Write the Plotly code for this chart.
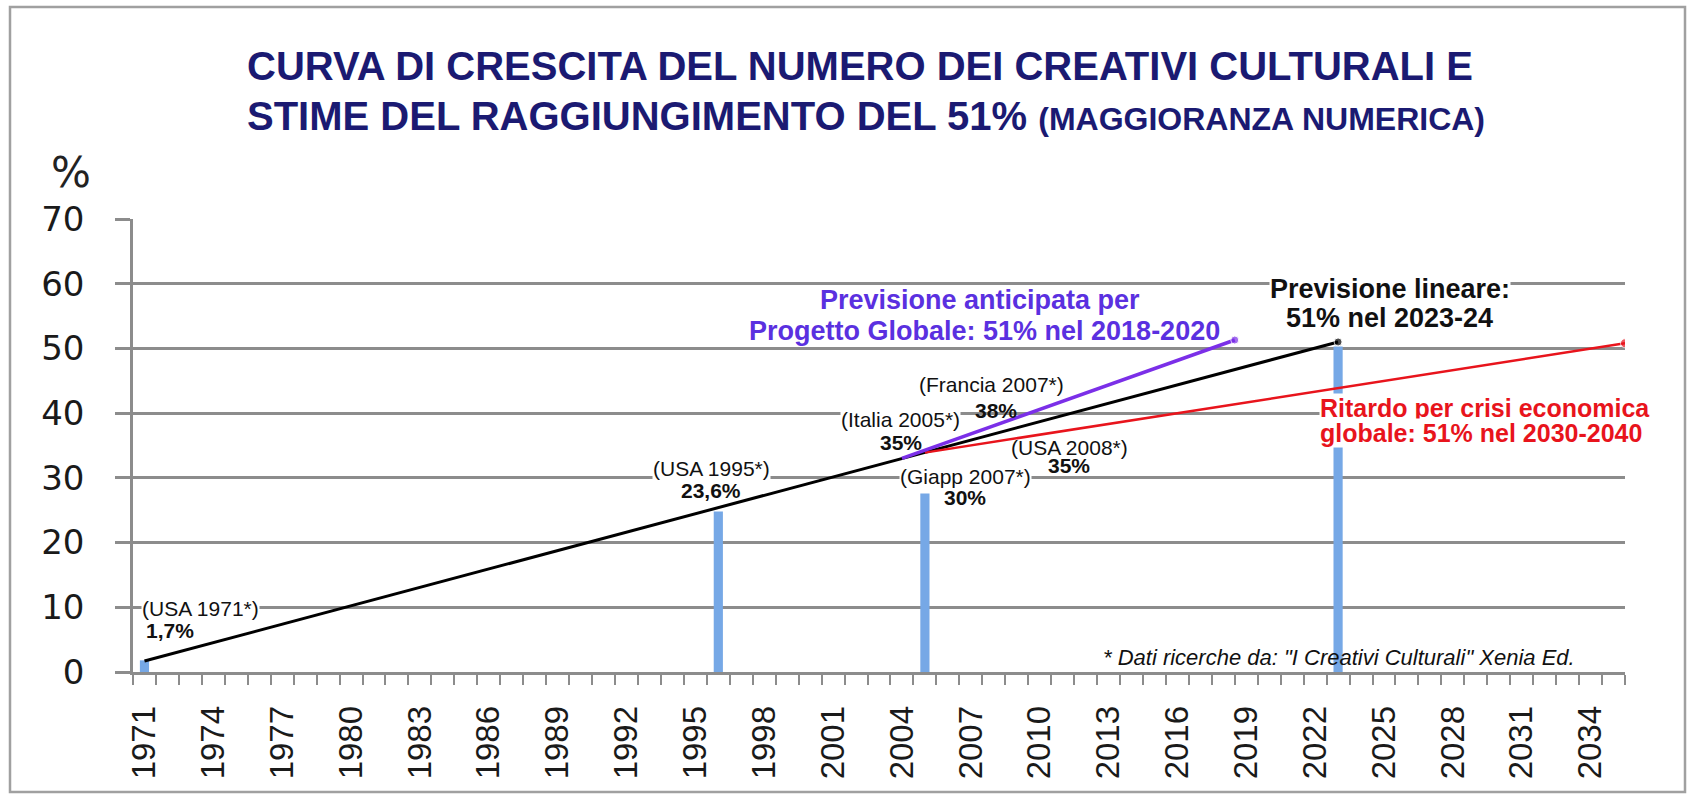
import plotly.graph_objects as go

# ---------------- data ----------------
tick_years = [1971, 1974, 1977, 1980, 1983, 1986, 1989, 1992, 1995, 1998, 2001,
              2004, 2007, 2010, 2013, 2016, 2019, 2022, 2025, 2028, 2031, 2034]
tick_labels = ["1971", "1974", "1977", "1980", "1983", "1986", "1989", "1992",
               "1995", "1998", "2001", "2004", "2007", "2010", "2013", "2016",
               "2019", "2022", "2025", "2028", "2031", "2034"]
all_years = list(range(1971, 2036))          # category slots on the axis

bar_years = [1971, 1996, 2005, 2023]
bar_values = [1.8, 24.8, 27.6, 50.3]

linear_years = [1971, 2023]                  # Previsione lineare
linear_values = [1.7, 51.0]
early_years = [2004, 2018.5]                 # Previsione anticipata (Progetto Globale)
early_values = [33.0, 51.3]
late_years = [2005, 2035.5]                  # Ritardo per crisi economica
late_values = [33.9, 50.8]

y_ticks = [0, 10, 20, 30, 40, 50, 60, 70]

# ---------------- layout geometry ----------------
W, H = 1687, 794
L, R, T, B = 133, 62, 219, 122
GRID = "#8c8c8c"
NAVY = "#1b1a72"
PURPLE_T = "#5a30e0"
PURPLE_L = "#7b2fe8"
RED = "#e8141c"
SANS = "Liberation Sans, Arial, sans-serif"
VERD = "DejaVu Sans, Verdana, sans-serif"


def px_x(px):
    return (px - L) / (W - L - R)


def px_y(py):
    return (H - B - py) / (H - T - B)


fig = go.Figure()

fig.add_trace(go.Bar(x=bar_years, y=bar_values, width=0.4,
                     marker=dict(color="#76a8e6", line=dict(width=0)),
                     hoverinfo="skip", showlegend=False))

fig.add_trace(go.Scatter(x=linear_years, y=linear_values, mode="lines+markers",
                         line=dict(color="#000000", width=3),
                         marker=dict(size=[0, 8], color="#000000"),
                         showlegend=False))
fig.add_trace(go.Scatter(x=late_years, y=late_values, mode="lines+markers",
                         line=dict(color=RED, width=2.5),
                         marker=dict(size=[0, 9], color=RED),
                         showlegend=False))
fig.add_trace(go.Scatter(x=early_years, y=early_values, mode="lines+markers",
                         line=dict(color=PURPLE_L, width=3.5),
                         marker=dict(size=[0, 8], color=PURPLE_L),
                         showlegend=False))

ann = []


def label(text, x, y, size=21, bold=False, color="#111111", xanchor="center",
          bg="white", italic=False, family=SANS):
    t = text
    if bold:
        t = "<b>" + t + "</b>"
    if italic:
        t = "<i>" + t + "</i>"
    ann.append(dict(text=t, x=x, y=y, xref="x", yref="y", showarrow=False,
                    xanchor=xanchor, yanchor="middle",
                    font=dict(family=family, size=size, color=color),
                    bgcolor=bg, borderpad=0))


label("(USA 1971*)", 1970.85, 9.74, xanchor="left")
label("1,7%", 1971.02, 6.34, bold=True, xanchor="left", bg=None)
label("(USA 1995*)", 1995.72, 31.37)
label("23,6%", 1995.68, 28.0, bold=True, bg=None)
label("(Italia 2005*)", 2003.93, 39.0)
label("35%", 2003.98, 35.5, bold=True, bg=None)
label("(Francia 2007*)", 2007.92, 44.35, bg=None)
label("38%", 2008.1, 40.45, bold=True, bg=None)
label("(USA 2008*)", 2011.28, 34.7, bg=None)
label("35%", 2011.28, 31.9, bold=True, bg=None)
label("(Giapp 2007*)", 2006.77, 30.18)
label("30%", 2006.75, 26.9, bold=True, bg=None)
label("Previsione anticipata per", 2007.42, 57.49, size=27, bold=True, color=PURPLE_T, bg=None)
label("Progetto Globale: 51% nel 2018-2020", 2007.59, 52.70, size=27, bold=True, color=PURPLE_T, bg=None)
label("Previsione lineare:", 2025.27, 59.19, size=27, bold=True)
label("51% nel 2023-24", 2025.23, 54.78, size=27, bold=True)
label("Ritardo per crisi economica", 2022.17, 40.80, size=25, bold=True, color=RED, xanchor="left")
label("globale: 51% nel 2030-2040", 2022.17, 36.86, size=25, bold=True, color=RED, xanchor="left")
label('* Dati ricerche da: "I Creativi Culturali" Xenia Ed.', 2033.37, 2.24, size=22,
      italic=True, xanchor="right", bg=None)

# titles
ann.append(dict(text="<b>CURVA DI CRESCITA DEL NUMERO DEI CREATIVI CULTURALI E</b>",
                x=px_x(245), y=px_y(66), xref="paper", yref="paper", showarrow=False,
                xanchor="left", yanchor="middle",
                font=dict(family=SANS, size=40, color=NAVY)))
ann.append(dict(text="<b>STIME DEL RAGGIUNGIMENTO DEL 51% <span style='font-size:32px'>(MAGGIORANZA NUMERICA)</span></b>",
                x=px_x(245), y=px_y(116), xref="paper", yref="paper", showarrow=False,
                xanchor="left", yanchor="middle",
                font=dict(family=SANS, size=40, color=NAVY)))
ann.append(dict(text="%", x=px_x(71), y=px_y(172.5), xref="paper", yref="paper",
                showarrow=False, xanchor="center", yanchor="middle",
                font=dict(family=VERD, size=42, color="#222222")))

fig.update_layout(
    width=W, height=H, autosize=False,
    margin=dict(l=L, r=R, t=T, b=B, pad=0),
    paper_bgcolor="white", plot_bgcolor="white",
    annotations=ann,
    shapes=[dict(type="rect", xref="paper", yref="paper",
                 x0=px_x(10), x1=px_x(1685), y0=px_y(792), y1=px_y(7),
                 line=dict(color="#a0a0a0", width=2.5), fillcolor="rgba(0,0,0,0)",
                 layer="below")],
    showlegend=False,
)

fig.update_xaxes(
    range=[all_years[0] - 0.5, all_years[-1] + 0.5],
    tickmode="array", tickvals=tick_years, ticktext=tick_labels,
    tickangle=-90, ticks="", ticklabelstandoff=18,
    tickfont=dict(family=SANS, size=33, color="#1a1a1a"),
    minor=dict(tickmode="array", tickvals=[y - 0.5 for y in all_years] + [all_years[-1] + 0.5],
               ticks="outside", ticklen=10, tickwidth=2, tickcolor=GRID, showgrid=False),
    showline=True, linecolor=GRID, linewidth=2.5,
    showgrid=False, zeroline=False,
)
fig.update_yaxes(
    range=[0, 70], tickmode="array", tickvals=y_ticks,
    ticks="outside", ticklen=15, tickwidth=2.5, tickcolor=GRID,
    ticklabelstandoff=24,
    tickfont=dict(family=VERD, size=34, color="#1a1a1a"),
    showgrid=True, gridcolor=GRID, gridwidth=2.5,
    showline=True, linecolor=GRID, linewidth=2.5, zeroline=False,
)

fig.write_html("out.html", config={"displayModeBar": False},
               post_script="document.body.style.margin='0';document.body.style.overflow='hidden';")
